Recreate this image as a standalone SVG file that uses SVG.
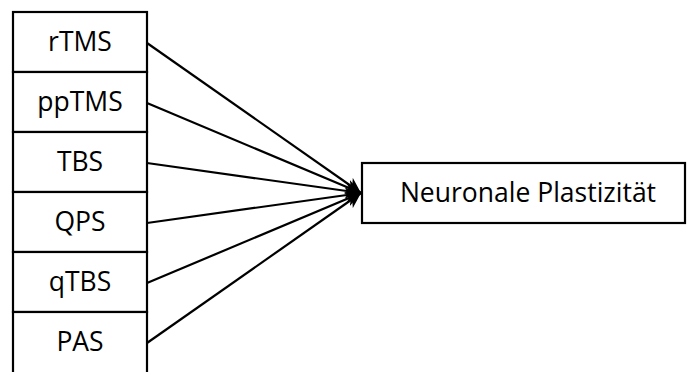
<svg xmlns="http://www.w3.org/2000/svg" width="687" height="372" viewBox="0 0 687 372">
<style>
.box{fill:#fff;stroke:#000;stroke-width:2.2}
.lbl{font-family:"Open Sans","Liberation Sans",sans-serif;font-size:26.5px;fill:#000;text-anchor:middle;dominant-baseline:central}
.con{stroke:#000;stroke-width:2.2;fill:none;marker-end:url(#arr)}
</style>
<defs>
<marker id="arr" viewBox="0 0 10 10" refX="10" refY="5" markerWidth="7" markerHeight="7" orient="auto" markerUnits="strokeWidth">
<path d="M0,0 L10,5 L0,10 L3,5 Z" fill="#000"/>
</marker>
</defs>
<rect width="687" height="372" fill="#fff"/>
<g id="connectors">
<line class="con" x1="147" y1="43" x2="361" y2="193"/>
<line class="con" x1="147" y1="103" x2="361" y2="193"/>
<line class="con" x1="147" y1="163" x2="361" y2="193"/>
<line class="con" x1="147" y1="223" x2="361" y2="193"/>
<line class="con" x1="147" y1="283" x2="361" y2="193"/>
<line class="con" x1="147" y1="343" x2="361" y2="193"/>
</g>
<g id="rTMS"><rect class="box" x="13" y="12" width="134" height="60"/><text class="lbl" x="80" y="41">rTMS</text></g>
<g id="ppTMS"><rect class="box" x="13" y="72" width="134" height="60"/><text class="lbl" x="80" y="101">ppTMS</text></g>
<g id="TBS"><rect class="box" x="13" y="132" width="134" height="60"/><text class="lbl" x="80" y="161">TBS</text></g>
<g id="QPS"><rect class="box" x="13" y="192" width="134" height="60"/><text class="lbl" x="80" y="221">QPS</text></g>
<g id="qTBS"><rect class="box" x="13" y="252" width="134" height="60"/><text class="lbl" x="80" y="281">qTBS</text></g>
<g id="PAS"><rect class="box" x="13" y="312" width="134" height="62"/><text class="lbl" x="80" y="341">PAS</text></g>
<g id="plast"><rect class="box" x="362" y="163" width="323" height="60"/><text class="lbl" x="528" y="192">Neuronale Plastizität</text></g>
</svg>
